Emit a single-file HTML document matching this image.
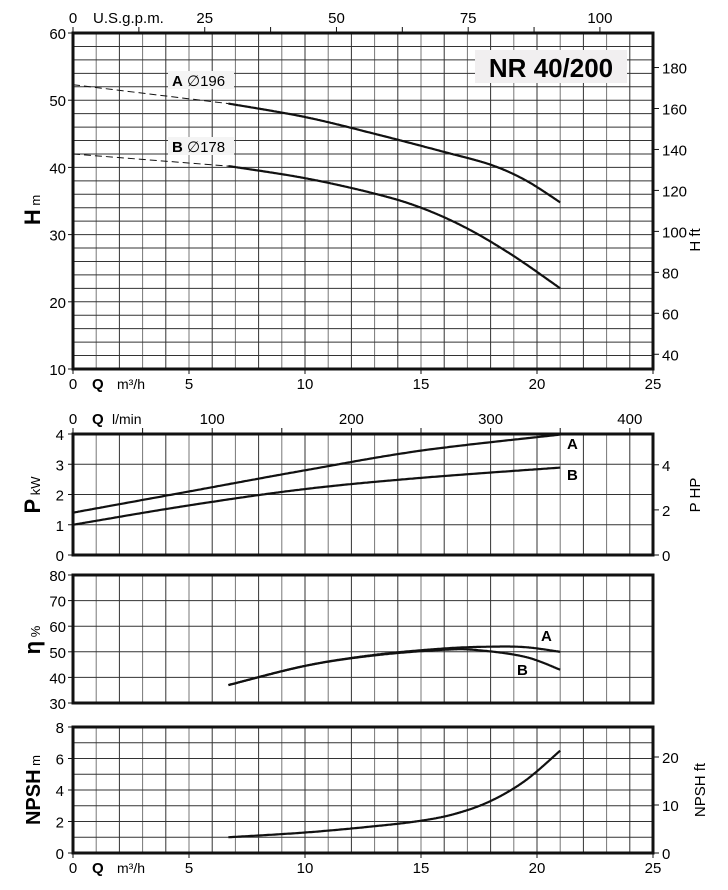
<!DOCTYPE html>
<html><head><meta charset="utf-8"><style>
html,body{margin:0;padding:0;background:#fff;}
svg{display:block;font-family:"Liberation Sans",sans-serif;}
</style></head><body>
<svg id="s" width="728" height="890" viewBox="0 0 728 890" xmlns="http://www.w3.org/2000/svg"></svg>
<script>
const s=document.getElementById('s');let h='';
const X0=73,X1=653,px=(X1-X0)/25;
const X=q=>X0+q*px;
function grid(top,bot,nh){
  for(let i=1;i<25;i++){h+=`<line x1="${X(i)}" y1="${top}" x2="${X(i)}" y2="${bot}" stroke="${i%2?'#777':'#333'}" stroke-width="1"/>`;}
  for(let j=1;j<nh;j++){const y=top+(bot-top)*j/nh;h+=`<line x1="${X0}" y1="${y}" x2="${X1}" y2="${y}" stroke="#333" stroke-width="1"/>`;}
  h+=`<rect x="${X0}" y="${top}" width="${X1-X0}" height="${bot-top}" fill="none" stroke="#111" stroke-width="3"/>`;
}
function t(x,y,str,o=''){h+=`<text x="${x}" y="${y}" ${o}>${str}</text>`;}
function path(pts,fy,o){let d='';pts.forEach((p,i)=>{d+=(i?'L':'M')+X(p[0]).toFixed(1)+','+fy(p[1]).toFixed(1);});h+=`<path d="${d}" fill="none" ${o}/>`;}
function smooth(pts,n=60){
  const out=[];for(let i=0;i<pts.length-1;i++){const p0=pts[Math.max(0,i-1)],p1=pts[i],p2=pts[i+1],p3=pts[Math.min(pts.length-1,i+2)];
  for(let k=0;k<n;k++){const u=k/n,u2=u*u,u3=u2*u;const f=(a,b,c,d)=>0.5*((2*b)+(-a+c)*u+(2*a-5*b+4*c-d)*u2+(-a+3*b-3*c+d)*u3);out.push([f(p0[0],p1[0],p2[0],p3[0]),f(p0[1],p1[1],p2[1],p3[1])]);}}
  out.push(pts[pts.length-1]);return out;}
const CW='stroke="#111" stroke-width="2.2"';
const DS='stroke="#111" stroke-width="1" stroke-dasharray="7,4"';
// ---- H chart
const HT=33,HB=369,HY=v=>HB-(v-10)*(HB-HT)/50;
grid(HT,HB,25);
[10,20,30,40,50,60].forEach(v=>{t(66,HY(v)+6,v,'font-size="15" text-anchor="end"');h+=`<line x1="68" y1="${HY(v)}" x2="${X0}" y2="${HY(v)}" stroke="#111"/>`;});
[40,60,80,100,120,140,160,180].forEach(f=>{const y=HY(f/3.281);h+=`<line x1="${X1}" y1="${y}" x2="${X1+6}" y2="${y}" stroke="#111"/>`;t(X1+9,y+6,f,'font-size="15"');});
t(700,240,'H ft','font-size="15" transform="rotate(-90 700 240)" text-anchor="middle"');
h+=`<text transform="translate(40 210) rotate(-90)" text-anchor="middle"><tspan font-weight="bold" font-size="22">H</tspan><tspan font-size="13"> m</tspan></text>`;
[0,25,50,75,100].forEach(g=>{const x=X(g*0.22712);t(x,23,g,'font-size="15" text-anchor="middle"');});
for(let g=0;g<=100;g+=12.5){const x=X(g*0.22712);h+=`<line x1="${x}" y1="27" x2="${x}" y2="${HT}" stroke="#111"/>`;}
t(93,23,'U.S.g.p.m.','font-size="15"');
[0,5,10,15,20,25].forEach(q=>{t(X(q),389,q,'font-size="15" text-anchor="middle"');h+=`<line x1="${X(q)}" y1="${HB}" x2="${X(q)}" y2="${HB+5}" stroke="#111"/>`;});
t(92,389,'Q','font-size="15" font-weight="bold"');t(117,389,'m³/h','font-size="14"');
h+=`<rect x="475" y="50" width="152" height="33" fill="#f1eff0"/>`;
t(551,77,'NR 40/200','font-size="26" font-weight="bold" text-anchor="middle"');
path([[0,52.3],[6.7,49.5]],HY,DS);
path(smooth([[6.7,49.5],[10,47.5],[13,45],[16,42.3],[18,40.4],[19.5,38.1],[21,34.8]]),HY,CW);
path([[0,42],[6.7,40.2]],HY,DS);
path(smooth([[6.7,40.2],[10,38.4],[13,36.1],[15,34],[17,30.9],[19,26.8],[21,22]]),HY,CW);
h+=`<rect x="168" y="71" width="66" height="18" fill="#f4f4f4"/><rect x="168" y="137" width="66" height="18" fill="#f4f4f4"/>`;
t(172,86,'<tspan font-weight="bold">A</tspan> ∅196','font-size="15"');
t(172,152,'<tspan font-weight="bold">B</tspan> ∅178','font-size="15"');
// ---- P chart
const PT=434,PB=555,PY=v=>PB-v*(PB-PT)/4;
grid(PT,PB,4);
[0,1,2,3,4].forEach(v=>{t(64,PY(v)+6,v,'font-size="15" text-anchor="end"');h+=`<line x1="68" y1="${PY(v)}" x2="${X0}" y2="${PY(v)}" stroke="#111"/>`;});
[0,2,4].forEach(p=>{const y=PY(p*0.7457);h+=`<line x1="${X1}" y1="${y}" x2="${X1+6}" y2="${y}" stroke="#111"/>`;t(X1+9,y+6,p,'font-size="15"');});
t(700,495,'P HP','font-size="15" transform="rotate(-90 700 495)" text-anchor="middle"');
h+=`<text transform="translate(40 495) rotate(-90)" text-anchor="middle"><tspan font-weight="bold" font-size="22">P</tspan><tspan font-size="13"> kW</tspan></text>`;
[0,100,200,300,400].forEach(l=>{const x=X(l*0.06);t(x,424,l,'font-size="15" text-anchor="middle"');});
for(let l=0;l<=400;l+=50){const x=X(l*0.06);h+=`<line x1="${x}" y1="428" x2="${x}" y2="${PT}" stroke="#111"/>`;}
t(92,424,'Q','font-size="15" font-weight="bold"');t(112,424,'l/min','font-size="14"');
path(smooth([[0,1.4],[5,2.1],[10,2.8],[15,3.45],[21,3.98]]),PY,CW);
path(smooth([[0,1.0],[5,1.64],[10,2.18],[15,2.55],[21,2.89]]),PY,CW);
t(567,449,'A','font-size="15" font-weight="bold"');t(567,480,'B','font-size="15" font-weight="bold"');
// ---- eta chart
const ET=575,EB=703,EY=v=>EB-(v-30)*(EB-ET)/50;
grid(ET,EB,5);
[30,40,50,60,70,80].forEach(v=>{t(66,EY(v)+6,v,'font-size="15" text-anchor="end"');h+=`<line x1="68" y1="${EY(v)}" x2="${X0}" y2="${EY(v)}" stroke="#111"/>`;});
h+=`<text transform="translate(40 640) rotate(-90)" text-anchor="middle"><tspan font-weight="bold" font-size="22">η</tspan><tspan font-size="13"> %</tspan></text>`;
path(smooth([[6.7,37],[10,44.5],[13,48.8],[16,51.3],[18,52],[19.5,51.8],[21,50]]),EY,CW);
path(smooth([[6.7,37],[10,44.5],[13,48.6],[16,50.8],[17.5,50.6],[19.5,48],[21,43]]),EY,CW);
t(541,641,'A','font-size="15" font-weight="bold"');t(517,675,'B','font-size="15" font-weight="bold"');
// ---- NPSH chart
const NT=727,NB=853,NY=v=>NB-v*(NB-NT)/8;
grid(NT,NB,8);
[0,2,4,6,8].forEach(v=>{t(64,NY(v)+6,v,'font-size="15" text-anchor="end"');h+=`<line x1="68" y1="${NY(v)}" x2="${X0}" y2="${NY(v)}" stroke="#111"/>`;});
[0,10,20].forEach(f=>{const y=NY(f/3.281);h+=`<line x1="${X1}" y1="${y}" x2="${X1+6}" y2="${y}" stroke="#111"/>`;t(X1+9,y+6,f,'font-size="15"');});
t(705,790,'NPSH ft','font-size="15" transform="rotate(-90 705 790)" text-anchor="middle"');
h+=`<text transform="translate(40 790) rotate(-90)" text-anchor="middle"><tspan font-weight="bold" font-size="20">NPSH</tspan><tspan font-size="13"> m</tspan></text>`;
[0,5,10,15,20,25].forEach(q=>{t(X(q),873,q,'font-size="15" text-anchor="middle"');h+=`<line x1="${X(q)}" y1="${NB}" x2="${X(q)}" y2="${NB+5}" stroke="#111"/>`;});
t(92,873,'Q','font-size="15" font-weight="bold"');t(117,873,'m³/h','font-size="14"');
path(smooth([[6.7,1.0],[10,1.3],[13,1.7],[15,2.05],[16.5,2.5],[18,3.3],[19.5,4.6],[21,6.5]]),NY,CW);
s.innerHTML=h;
</script>
</body></html>
